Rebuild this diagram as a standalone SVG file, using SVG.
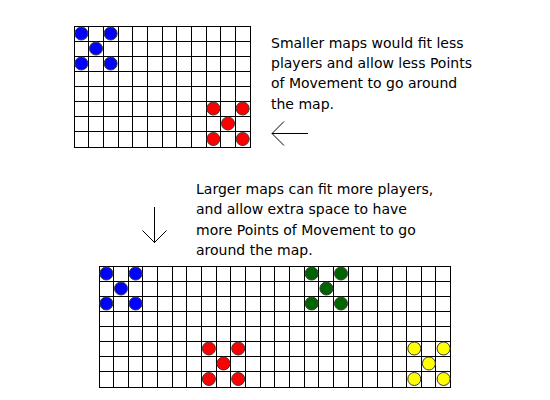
<svg xmlns="http://www.w3.org/2000/svg" width="550" height="400" viewBox="0 0 550 400">
<style>
.grid{fill:#fff;stroke:#000;stroke-width:1;shape-rendering:crispEdges}
.gl{fill:none;stroke:#000;stroke-width:1;shape-rendering:crispEdges}
.pc{stroke:#3a3a3a;stroke-width:1}
.blue{fill:#0000ff}.red{fill:#ff0000}.green{fill:#006400}.yellow{fill:#ffff00}
.t{font-family:"DejaVu Sans",Verdana,sans-serif;font-size:14px;fill:#000}
.arr{fill:none;stroke:#000;stroke-width:1}
</style>
<rect width="550" height="400" fill="#fff"/>
<g id="small-map">
<rect class="grid" x="74" y="26" width="176" height="121"/>
<path class="gl" d="M88.67 26V147M103.33 26V147M118 26V147M132.67 26V147M147.33 26V147M162 26V147M176.67 26V147M191.33 26V147M206 26V147M220.67 26V147M235.33 26V147M74 41H250M74 56H250M74 71H250M74 86H250M74 101H250M74 116H250M74 131H250"/>
<g class="blue pc">
<circle cx="81.33" cy="33.5" r="6.5"/><circle cx="110.67" cy="33.5" r="6.5"/>
<circle cx="96" cy="48.5" r="6.5"/>
<circle cx="81.33" cy="63.5" r="6.5"/><circle cx="110.67" cy="63.5" r="6.5"/>
</g>
<g class="red pc">
<circle cx="213.33" cy="108.5" r="6.5"/><circle cx="242.67" cy="108.5" r="6.5"/>
<circle cx="228" cy="123.5" r="6.5"/>
<circle cx="213.33" cy="139" r="6.5"/><circle cx="242.67" cy="139" r="6.5"/>
</g>
</g>
<g id="large-map">
<rect class="grid" x="99" y="266" width="351.6" height="121"/>
<path class="gl" d="M113.65 266V387M128.3 266V387M142.95 266V387M157.6 266V387M172.25 266V387M186.9 266V387M201.55 266V387M216.2 266V387M230.85 266V387M245.5 266V387M260.15 266V387M274.8 266V387M289.45 266V387M304.1 266V387M318.75 266V387M333.4 266V387M348.05 266V387M362.7 266V387M377.35 266V387M392 266V387M406.65 266V387M421.3 266V387M435.95 266V387M99 281H450.6M99 296H450.6M99 311H450.6M99 326H450.6M99 341H450.6M99 356H450.6M99 371H450.6"/>
<g class="blue pc">
<circle cx="106.33" cy="273.5" r="6.5"/><circle cx="135.63" cy="273.5" r="6.5"/>
<circle cx="120.98" cy="288.5" r="6.5"/>
<circle cx="106.33" cy="303.5" r="6.5"/><circle cx="135.63" cy="303.5" r="6.5"/>
</g>
<g class="red pc">
<circle cx="208.9" cy="348.5" r="6.5"/><circle cx="238.2" cy="348.5" r="6.5"/>
<circle cx="223.5" cy="363.5" r="6.5"/>
<circle cx="208.9" cy="379" r="6.5"/><circle cx="238.2" cy="379" r="6.5"/>
</g>
<g class="green pc">
<circle cx="311.7" cy="273.5" r="6.5"/><circle cx="341" cy="273.5" r="6.5"/>
<circle cx="326.4" cy="288.5" r="6.5"/>
<circle cx="311.7" cy="303.5" r="6.5"/><circle cx="341" cy="303.5" r="6.5"/>
</g>
<g class="yellow pc">
<circle cx="414.3" cy="348.5" r="6.5"/><circle cx="443.6" cy="348.5" r="6.5"/>
<circle cx="428.9" cy="363.5" r="6.5"/>
<circle cx="414.3" cy="379" r="6.5"/><circle cx="443.6" cy="379" r="6.5"/>
</g>
</g>
<g id="small-text">
<text class="t" x="271" y="48">Smaller maps would fit less</text>
<text class="t" x="271" y="68.2">players and allow less Points</text>
<text class="t" x="271" y="88.4">of Movement to go around</text>
<text class="t" x="271" y="108.6">the map.</text>
</g>
<g id="large-text">
<text class="t" x="196" y="194">Larger maps can fit more players,</text>
<text class="t" x="196" y="214.3">and allow extra space to have</text>
<text class="t" x="196" y="234.6">more Points of Movement to go</text>
<text class="t" x="196" y="254.9">around the map.</text>
</g>
<g id="connectors">
<path class="arr" d="M308 133.5H272M284 121.5L272 133.5L284 145.5"/>
<path class="arr" d="M154.5 207V243M142.5 230.5L154.5 242.5L166.5 230.5"/>
</g>
</svg>
